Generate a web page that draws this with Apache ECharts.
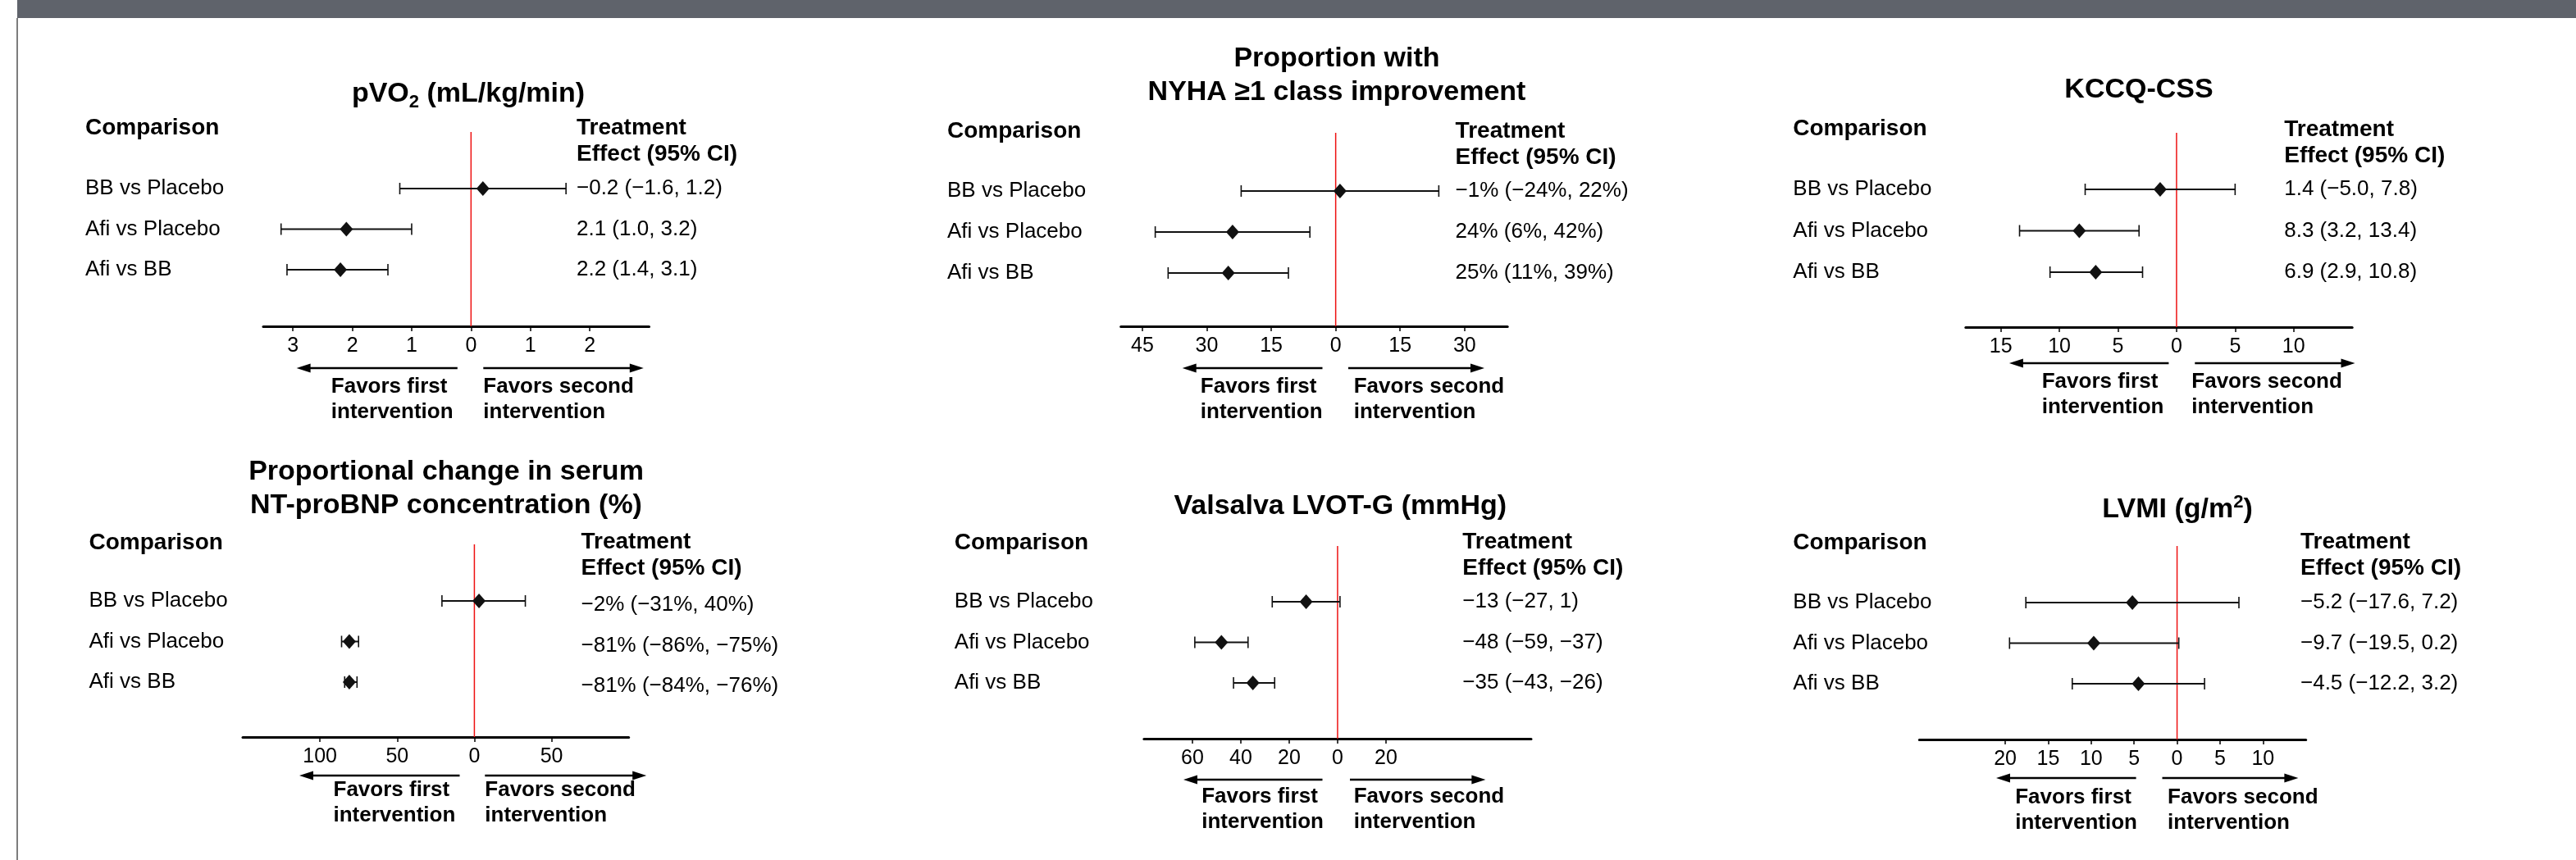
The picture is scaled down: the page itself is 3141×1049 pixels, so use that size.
<!DOCTYPE html>
<html><head><meta charset="utf-8">
<script src="https://cdn.jsdelivr.net/npm/echarts@6/dist/echarts.min.js"></script>
<style>html,body{margin:0;padding:0;background:#fff;}#c{width:3141px;height:1049px;}</style>
</head><body><div id="c"></div>
<script>
// ---------------- data ----------------
const comparisons = ['BB vs Placebo', 'Afi vs Placebo', 'Afi vs BB'];

const pvo2Est = [-0.2, 2.1, 2.2];
const pvo2Lo = [-1.6, 1.0, 1.4];
const pvo2Hi = [1.2, 3.2, 3.1];
const pvo2Text = ['\u22120.2 (\u22121.6, 1.2)', '2.1 (1.0, 3.2)', '2.2 (1.4, 3.1)'];
const pvo2Ticks = [3, 2, 1, 0, -1, -2];

const nyhaEst = [-1, 24, 25];
const nyhaLo = [-24, 6, 11];
const nyhaHi = [22, 42, 39];
const nyhaText = ['\u22121% (\u221224%, 22%)', '24% (6%, 42%)', '25% (11%, 39%)'];
const nyhaTicks = [45, 30, 15, 0, -15, -30];

const kccqEst = [1.4, 8.3, 6.9];
const kccqLo = [-5.0, 3.2, 2.9];
const kccqHi = [7.8, 13.4, 10.8];
const kccqText = ['1.4 (\u22125.0, 7.8)', '8.3 (3.2, 13.4)', '6.9 (2.9, 10.8)'];
const kccqTicks = [15, 10, 5, 0, -5, -10];

// NT-proBNP: marks as drawn in the figure
const bnpEst = [3, -81, -81];
const bnpLo = [-21, -86, -84];
const bnpHi = [33, -75, -76];
const bnpText = ['\u22122% (\u221231%, 40%)', '\u221281% (\u221286%, \u221275%)', '\u221281% (\u221284%, \u221276%)'];
const bnpTicks = [-100, -50, 0, 50];

const lvotEst = [-13, -48, -35];
const lvotLo = [-27, -59, -43];
const lvotHi = [1, -37, -26];
const lvotText = ['\u221213 (\u221227, 1)', '\u221248 (\u221259, \u221237)', '\u221235 (\u221243, \u221226)'];
const lvotTicks = [-60, -40, -20, 0, 20];

const lvmiEst = [-5.2, -9.7, -4.5];
const lvmiLo = [-17.6, -19.5, -12.2];
const lvmiHi = [7.2, 0.2, 3.2];
const lvmiText = ['\u22125.2 (\u221217.6, 7.2)', '\u22129.7 (\u221219.5, 0.2)', '\u22124.5 (\u221212.2, 3.2)'];
const lvmiTicks = [-20, -15, -10, -5, 0, 5, 10];

const axisRanges = [[-3, 3.5], [-40, 50], [-15, 18], [-150, 100], [-80, 80], [-30, 15]];
const higherIsBetter = [true, true, true, false, false, false];

const panelTitles = [
  '{a|pVO}{s|2}{a| (mL/kg/min)}',
  '{a|Proportion with}\n{a|NYHA \u22651 class improvement}',
  '{a|KCCQ-CSS}',
  '{a|Proportional change in serum}\n{a|NT-proBNP concentration (%)}',
  '{a|Valsalva LVOT-G (mmHg)}',
  '{a|LVMI (g/m}{p|2}{a|)}'
];
const headComparison = 'Comparison';
const headEffect = 'Treatment\nEffect (95% CI)';
const favFirst = 'Favors first\nintervention';
const favSecond = 'Favors second\nintervention';

const panelEst = [pvo2Est, nyhaEst, kccqEst, bnpEst, lvotEst, lvmiEst];
const panelLo = [pvo2Lo, nyhaLo, kccqLo, bnpLo, lvotLo, lvmiLo];
const panelHi = [pvo2Hi, nyhaHi, kccqHi, bnpHi, lvotHi, lvmiHi];
const panelText = [pvo2Text, nyhaText, kccqText, bnpText, lvotText, lvmiText];
const panelTicks = [pvo2Ticks, nyhaTicks, kccqTicks, bnpTicks, lvotTicks, lvmiTicks];

// ---------------- layout (pixels) ----------------
const layout = [
  {ax0:321, ax1:791.5, top:161, axisY:398, rows:[230,279,329], labelX:104, effX:703, effDy:0, titleX:571, titleY:115, headY:156, effHeadY:172, arrowY:449, arrL:[361.6,557.8], arrR:[589.3,784.8], fav1X:403.8, fav2X:589.3, favY:487.5},
  {ax0:1366.7, ax1:1838.2, top:162, axisY:398, rows:[233,283,333], labelX:1155, effX:1774.6, effDy:0, titleX:1630, titleY:92.5, headY:160, effHeadY:176.5, arrowY:449, arrL:[1441.7,1612.5], arrR:[1644,1810], fav1X:1463.8, fav2X:1650.7, favY:487.5},
  {ax0:2396.8, ax1:2868.2, top:162, axisY:399, rows:[231,282,332], labelX:2186.3, effX:2785.2, effDy:0, titleX:2608, titleY:110, headY:157, effHeadY:174.5, arrowY:443, arrL:[2449.9,2644.4], arrR:[2676.3,2871.5], fav1X:2489.7, fav2X:2672.3, favY:481},
  {ax0:296, ax1:766.7, top:664, axisY:899, rows:[733,783,832], labelX:108.5, effX:708.5, effDy:5, titleX:544, titleY:596, headY:662, effHeadY:677.5, arrowY:946, arrL:[365,560.5], arrR:[591.3,788.2], fav1X:406.5, fav2X:591.3, favY:979},
  {ax0:1394.9, ax1:1867, top:666, axisY:901, rows:[734,784,833], labelX:1163.8, effX:1783.3, effDy:0, titleX:1634.3, titleY:618, headY:662, effHeadY:677.5, arrowY:951, arrL:[1443,1612.5], arrR:[1646,1811.4], fav1X:1465.2, fav2X:1650.7, favY:987.5},
  {ax0:2340.3, ax1:2811.7, top:666, axisY:902, rows:[735,785,834], labelX:2186.3, effX:2805, effDy:0, titleX:2655, titleY:622, headY:662, effHeadY:677.5, arrowY:949, arrL:[2434,2604.6], arrR:[2636.5,2802.4], fav1X:2457.2, fav2X:2643.1, favY:988}
];

const FONT = '"Liberation Sans", Arial, Helvetica, sans-serif';
const INK = '#111';

function renderCI(params, api) {
  const est = api.value(0), lo = api.value(1), hi = api.value(2), row = api.value(3);
  const pe = api.coord([est, row]);
  const pl = api.coord([lo, row]);
  const ph = api.coord([hi, row]);
  const y = pe[1];
  const cap = 7, dw = 8, dh = 9;
  return {type:'group', children:[
    {type:'line', shape:{x1:pl[0], y1:y, x2:ph[0], y2:y}, style:{stroke:INK, lineWidth:2}},
    {type:'line', shape:{x1:pl[0], y1:y-cap, x2:pl[0], y2:y+cap}, style:{stroke:INK, lineWidth:1.6}},
    {type:'line', shape:{x1:ph[0], y1:y-cap, x2:ph[0], y2:y+cap}, style:{stroke:INK, lineWidth:1.6}},
    {type:'polygon', shape:{points:[[pe[0], y-dh],[pe[0]+dw, y],[pe[0], y+dh],[pe[0]-dw, y]]}, style:{fill:INK}}
  ]};
}

const grids = [], xAxes = [], yAxes = [], series = [], graphics = [];

graphics.push({type:'rect', shape:{x:21, y:0, width:3120, height:22}, style:{fill:'#5f636b'}, silent:true});
graphics.push({type:'rect', shape:{x:20, y:22, width:2, height:1027}, style:{fill:'#7d7d7d'}, silent:true});

function txt(x, y, text, opts) {
  return Object.assign({type:'text', x:x, y:y, silent:true, style:Object.assign({
    text:text, fill:'#000', fontFamily:FONT, fontSize:26, fontWeight:'normal',
    textAlign:'left', align:'left', textVerticalAlign:'middle', verticalAlign:'middle'
  }, opts || {})});
}

layout.forEach((L, i) => {
  const sp = (L.rows[2] - L.rows[0]) / 2;
  const yMin = 1 - (L.rows[0] - L.top) / sp;
  const yMax = 1 + (L.axisY - L.rows[0]) / sp;
  const yShift = L.effDy / sp;
  grids.push({left:L.ax0, top:L.top, width:L.ax1 - L.ax0, height:L.axisY - L.top, containLabel:false});
  const ticks = panelTicks[i];
  xAxes.push({
    gridIndex:i, type:'value', min:axisRanges[i][0], max:axisRanges[i][1], inverse:higherIsBetter[i],
    position:'bottom',
    axisLine:{show:true, onZero:false, lineStyle:{color:'#000', width:3}},
    axisTick:{show:true, customValues:ticks, length:6, lineStyle:{color:'#000', width:1.5}},
    axisLabel:{customValues:ticks, formatter:(v) => String(Math.abs(v)), fontSize:25, color:'#000', fontFamily:FONT, margin:12},
    splitLine:{show:false}
  });
  yAxes.push({
    gridIndex:i, type:'value', min:yMin, max:yMax, inverse:true, position:'left',
    axisLine:{show:false}, axisTick:{show:false}, splitLine:{show:false},
    axisLabel:{customValues:[1,2,3], formatter:(v) => comparisons[Math.round(v) - 1] || '',
      align:'left', margin:L.ax0 - L.labelX, fontSize:26, color:'#000', fontFamily:FONT}
  });
  const texts = panelText[i];
  yAxes.push({
    gridIndex:i, type:'value', min:yMin - yShift, max:yMax - yShift, inverse:true, position:'right',
    axisLine:{show:false}, axisTick:{show:false}, splitLine:{show:false},
    axisLabel:{customValues:[1,2,3], formatter:(v) => texts[Math.round(v) - 1] || '',
      align:'left', margin:L.effX - L.ax1, fontSize:26, color:'#000', fontFamily:FONT}
  });
  // zero reference line
  series.push({type:'line', xAxisIndex:i, yAxisIndex:2*i, data:[[0, yMin],[0, yMax]], showSymbol:false, silent:true,
    lineStyle:{color:'#ee1111', width:1.5}, z:1, animation:false});
  const est = panelEst[i], lo = panelLo[i], hi = panelHi[i];
  series.push({type:'custom', xAxisIndex:i, yAxisIndex:2*i, renderItem:renderCI, silent:true, z:3, animation:false,
    data: est.map((e, k) => [e, lo[k], hi[k], k + 1])});

  // title
  graphics.push({type:'text', x:L.titleX, y:L.titleY, silent:true, style:{
    text:panelTitles[i], textAlign:'center', align:'center', textVerticalAlign:'middle', verticalAlign:'middle',
    rich:{
      a:{fontSize:34, fontWeight:'bold', fontFamily:FONT, fill:'#000', lineHeight:41},
      s:{fontSize:22, fontWeight:'bold', fontFamily:FONT, fill:'#000', lineHeight:22, verticalAlign:'bottom'},
      p:{fontSize:22, fontWeight:'bold', fontFamily:FONT, fill:'#000', lineHeight:22, verticalAlign:'top'}
    }}});
  graphics.push(txt(L.labelX, L.headY, headComparison, {fontSize:28, fontWeight:'bold'}));
  graphics.push(txt(L.effX, L.effHeadY, headEffect, {fontSize:28, fontWeight:'bold', lineHeight:32}));
  graphics.push(txt(L.fav1X, L.favY, favFirst, {fontSize:26, fontWeight:'bold', lineHeight:31}));
  graphics.push(txt(L.fav2X, L.favY, favSecond, {fontSize:26, fontWeight:'bold', lineHeight:31}));
  // arrows
  const ay = L.arrowY, hl = 17, hw = 5.5;
  graphics.push({type:'line', silent:true, shape:{x1:L.arrL[0] + hl - 1, y1:ay, x2:L.arrL[1], y2:ay}, style:{stroke:'#000', lineWidth:2.5}});
  graphics.push({type:'polygon', silent:true, shape:{points:[[L.arrL[0], ay],[L.arrL[0] + hl, ay - hw],[L.arrL[0] + hl, ay + hw]]}, style:{fill:'#000'}});
  graphics.push({type:'line', silent:true, shape:{x1:L.arrR[0], y1:ay, x2:L.arrR[1] - hl + 1, y2:ay}, style:{stroke:'#000', lineWidth:2.5}});
  graphics.push({type:'polygon', silent:true, shape:{points:[[L.arrR[1], ay],[L.arrR[1] - hl, ay - hw],[L.arrR[1] - hl, ay + hw]]}, style:{fill:'#000'}});
});

const chart = echarts.init(document.getElementById('c'), null, {renderer:'canvas'});
chart.setOption({
  animation:false,
  backgroundColor:'#ffffff',
  textStyle:{fontFamily:FONT},
  grid:grids, xAxis:xAxes, yAxis:yAxes, series:series, graphic:graphics
});
</script></body></html>
